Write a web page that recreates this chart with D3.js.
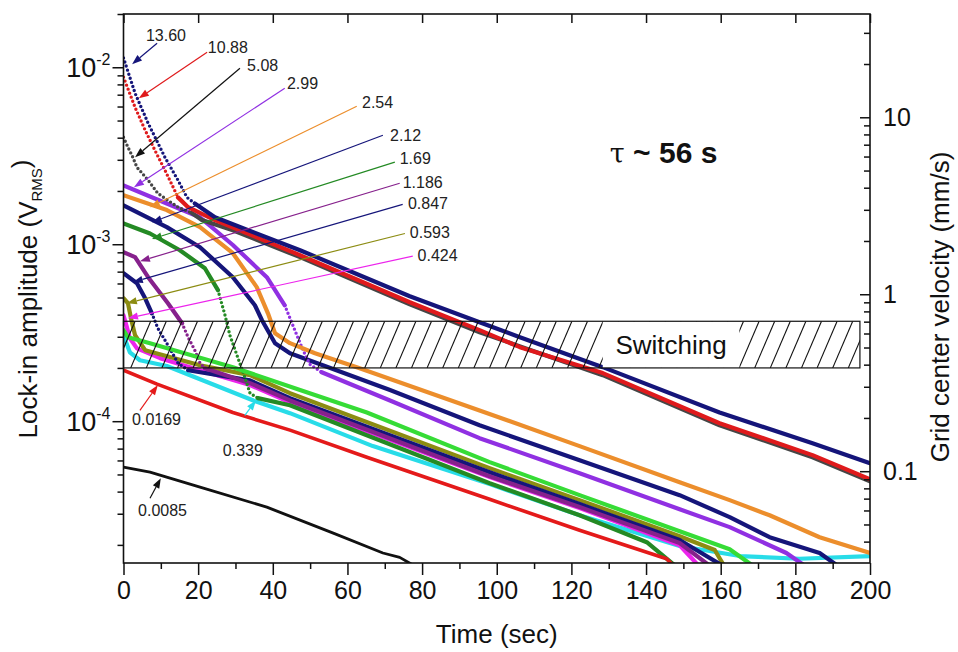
<!DOCTYPE html>
<html>
<head>
<meta charset="utf-8">
<script src="https://cdn.jsdelivr.net/npm/d3@7"></script>
<style>
  html, body { margin: 0; padding: 0; background: #fff; }
  svg { display: block; font-family: "Liberation Sans", Arial, Helvetica, sans-serif; }
</style>
</head>
<body>
<svg id="chart" width="958" height="652"></svg>
<script>
// ---------- data ----------
const timeDomain = [0, 200];               // s
const ampDomain = [1.58e-5, 2.0e-2];       // V (RMS)
const velPerVolt = 1917;                   // right axis: grid centre velocity (mm/s) per volt
const xMajorTicks = [0, 20, 40, 60, 80, 100, 120, 140, 160, 180, 200];
const xMinorTicks = [10, 30, 50, 70, 90, 110, 130, 150, 170, 190];
const ampMajorTicks = [1e-4, 1e-3, 1e-2];
const ampTickExponents = ["-4", "-3", "-2"];
const velMajorTicks = [0.1, 1, 10];
const velTickLabels = ["0.1", "1", "10"];
const switchingBand = [2.0e-4, 3.67e-4];   // amplitude range of the switching region
const switchingTime = [0, 197.3];
const switchingGap = [128.4, 165.0];       // clear strip carrying the caption

// decay curves: [time (s), lock-in amplitude (V)], labelled by drive velocity (mm/s)
const v13_60 = [[0,0.0113],[3.1,0.00713],[6.6,0.00483],[11.1,0.00310],[14.6,0.00230],[17.0,0.00184],[19.1,0.00170],[24.5,0.00142],[47.3,9.25e-4],[76.7,5.08e-4],[95.4,3.62e-4],[106.2,2.98e-4],[128.4,2.02e-4],[159.7,1.12e-4],[184.6,7.51e-5],[200,5.79e-5]];
const v10_88 = [[0,0.00880],[3.1,0.00594],[5.8,0.00441],[8.4,0.00340],[11.1,0.00262],[13.3,0.00210],[14.6,0.00184],[17.3,0.00162],[24.5,0.00137],[47.3,8.67e-4],[76.7,4.70e-4],[95.4,3.27e-4],[106.2,2.62e-4],[128.4,1.87e-4],[159.7,9.74e-5],[184.6,6.43e-5],[200,4.70e-5]];
const v5_08 = [[0,0.00402],[1.2,0.00353],[2.5,0.00310],[3.6,0.00272],[5.0,0.00252],[6.6,0.00230],[9.2,0.00194],[11.9,0.00177],[14.6,0.00162],[18.3,0.00150],[21.0,0.00137],[29.3,0.00120],[47.3,8.45e-4],[76.7,4.58e-4],[95.4,3.18e-4],[128.4,1.82e-4],[159.7,9.49e-5],[184.6,6.26e-5],[200,4.58e-5]];
const v2_99 = [[0,0.00215],[11.6,0.00170],[20.5,0.00142],[29.3,0.00099],[38.4,6.51e-4],[43.2,4.52e-4],[45.9,3.27e-4],[48.1,2.52e-4],[49.9,2.10e-4],[53.1,1.89e-4],[71.4,1.31e-4],[95.4,8.02e-5],[122.2,5.08e-5],[149.0,3.18e-5],[162.4,2.52e-5],[177.6,1.80e-5],[183.0,1.5e-5]];
const v2_54 = [[0,0.00189],[11.6,0.00156],[20.5,0.00125],[29.3,8.90e-4],[35.7,5.72e-4],[38.7,4.07e-4],[40.6,3.14e-4],[44.6,2.76e-4],[51.3,2.42e-4],[62.5,2.02e-4],[95.4,1.15e-4],[122.2,7.23e-5],[149.0,4.52e-5],[162.4,3.58e-5],[173.1,2.94e-5],[186.5,2.21e-5],[200,1.80e-5]];
const v2_12 = [[0,0.00166],[11.6,0.00125],[20.5,9.62e-4],[29.3,6.51e-4],[35.2,4.52e-4],[37.1,3.72e-4],[40.6,2.76e-4],[44.6,2.42e-4],[53.4,2.07e-4],[71.4,1.50e-4],[95.4,9.49e-5],[122.2,6.02e-5],[149.0,3.82e-5],[162.4,2.87e-5],[173.1,2.21e-5],[186.5,1.80e-5],[191.8,1.5e-5]];
const v1_69 = [[0,0.00131],[7.1,0.00115],[15.1,9.25e-4],[21.8,7.32e-4],[25.3,5.50e-4],[27.2,3.97e-4],[28.5,3.06e-4],[30.4,2.36e-4],[32.3,1.82e-4],[33.9,1.44e-4],[36.0,1.35e-4],[44.6,1.23e-4],[98.1,4.46e-5],[122.2,2.94e-5],[140.2,2.07e-5],[148.2,1.5e-5]];
const v1_186 = [[0,9.01e-4],[3.1,8.45e-4],[6.6,6.51e-4],[11.9,4.64e-4],[15.7,3.58e-4],[17.3,2.98e-4],[19.1,2.52e-4],[20.5,2.13e-4],[21.8,1.99e-4],[33.9,1.64e-4],[44.6,1.31e-4],[98.1,4.89e-5],[122.2,3.27e-5],[149.0,2.05e-5],[157.5,1.5e-5]];
const v0_847 = [[0,6.86e-4],[3.6,6.02e-4],[5.8,4.95e-4],[7.6,4.07e-4],[9.2,3.35e-4],[11.1,2.87e-4],[13.0,2.45e-4],[14.6,2.13e-4],[17.3,1.94e-4],[33.9,1.70e-4],[44.6,1.35e-4],[98.1,5.15e-5],[122.2,3.40e-5],[149.0,2.13e-5],[161.1,1.5e-5]];
const v0_593 = [[0,4.95e-4],[1.2,4.64e-4],[2.0,3.82e-4],[3.1,3.06e-4],[5.8,2.52e-4],[20.5,2.07e-4],[33.9,1.82e-4],[44.6,1.44e-4],[98.1,5.43e-5],[122.2,3.58e-5],[149.0,2.24e-5],[158.4,1.87e-5],[161.1,1.5e-5]];
const v0_424 = [[0,3.97e-4],[0.9,3.40e-4],[1.7,2.94e-4],[3.6,2.58e-4],[9.8,2.27e-4],[20.5,1.94e-4],[33.9,1.60e-4],[44.6,1.28e-4],[98.1,4.83e-5],[122.2,3.23e-5],[149.0,1.99e-5],[154.4,1.5e-5]];
const v0_339 = [[0,3.06e-4],[1.7,2.45e-4],[4.4,2.21e-4],[11.6,2.05e-4],[34.8,1.31e-4],[44.6,1.11e-4],[66.8,7.23e-5],[98.1,4.41e-5],[122.2,2.94e-5],[149.0,1.97e-5],[165.1,1.73e-5],[181.1,1.67e-5],[200,1.73e-5]];
const vUnlabelled = [[0,3.27e-4],[1.2,2.98e-4],[7.1,2.76e-4],[29.3,2.02e-4],[47.3,1.50e-4],[65.2,1.12e-4],[98.1,5.87e-5],[122.2,3.82e-5],[149.0,2.39e-5],[162.4,1.89e-5],[169.1,1.5e-5]];
const v0_0169 = [[0,1.94e-4],[9.0,1.62e-4],[29.3,1.12e-4],[44.6,8.90e-5],[65.2,6.26e-5],[98.1,3.62e-5],[122.2,2.42e-5],[145.5,1.67e-5],[147.7,1.5e-5]];
const v0_0085 = [[0,5.50e-5],[7.1,5.15e-5],[20.5,4.24e-5],[38.4,3.27e-5],[56.2,2.33e-5],[69.5,1.80e-5],[74.0,1.70e-5],[78.5,1.5e-5]];

// drawing order (back to front); sparse = time span recorded with few samples
const series = [
  { key: "0.339",  points: v0_339 },
  { key: "0.424",  points: v0_424 },
  { key: "0.593",  points: v0_593 },
  { key: "0.847",  points: v0_847, sparse: [8, 17.5] },
  { key: "1.186",  points: v1_186, sparse: [15.5, 21.5] },
  { key: "1.69",   points: v1_69,  sparse: [26, 35] },
  { key: "lime",   points: vUnlabelled },
  { key: "0.0169", points: v0_0169 },
  { key: "0.0085", points: v0_0085 },
  { key: "2.12",   points: v2_12 },
  { key: "2.99",   points: v2_99,  sparse: [42.5, 53] },
  { key: "2.54",   points: v2_54 },
  { key: "5.08",   points: v5_08,  sparse: [0, 18] },
  { key: "10.88",  points: v10_88, sparse: [0, 15] },
  { key: "13.60",  points: v13_60, sparse: [0, 19] }
];

// call-outs: label text, text anchor, leader start, arrow tip (time, amplitude)
const calloutText = ["13.60","10.88","5.08","2.99","2.54","2.12","1.69","1.186","0.847","0.593","0.424","0.0169","0.339","0.0085"];
const calloutAt   = [[6.0,0.01517],[22.6,0.01297],[33.1,0.01026],[43.8,0.00812],[63.9,0.00634],[71.4,0.00413],[74.0,0.00306],[74.8,0.00224],[76.2,0.00170],[76.7,0.00117],[78.8,8.67e-4],[2.3,1.03e-4],[26.6,6.86e-5],[3.9,3.14e-5]];
const calloutFrom = [[9.0,0.01366],[22.4,0.01216],[31.2,0.00987],[43.2,0.00761],[62.5,0.00602],[69.5,0.00413],[72.7,0.00291],[74.0,0.00221],[74.8,0.00168],[75.4,0.00115],[77.5,8.56e-4],[4.4,1.15e-4],[32.5,1.08e-4],[7.1,3.67e-5]];
const calloutTip  = [[2.3,0.01040],[4.1,0.00668],[3.1,0.00310],[2.8,0.00210],[7.1,0.00162],[7.6,0.00133],[7.6,0.00107],[4.4,8.01e-4],[2.5,6.10e-4],[0.9,4.64e-4],[1.2,3.82e-4],[9.2,1.60e-4],[35.5,1.31e-4],[10.0,4.76e-5]];
const calloutKey  = ["13.60","10.88","5.08","2.99","2.54","2.12","1.69","1.186","0.847","0.593","0.424","0.0169","0.339","0.0085"];

const tauText = ["\u03c4", " ~ 56 s"];
const tauAt = [130.3, 0.00287];

// ---------- styles ----------
const colour = {
  "13.60": "#15157a", "10.88": "#df1a1c", "5.08": "#464646", "2.99": "#9030e2",
  "2.54": "#ec8e2c", "2.12": "#15157a", "1.69": "#248a24", "1.186": "#86218c",
  "0.847": "#15157a", "0.593": "#8c8c12", "0.424": "#ec24ec", "0.339": "#28dce8",
  "lime": "#36dc36", "0.0169": "#e41a1a", "0.0085": "#111111"
};
const arrowColour = Object.assign({}, colour, { "5.08": "#111111" });
const strokeW = { "0.0085": 2.8, "0.0169": 3.6 };

const plot = { left: 123.5, top: 14, right: 870, bottom: 563 };

// ---------- scales ----------
const x = d3.scaleLinear().domain(timeDomain).range([plot.left, plot.right]);
const y = d3.scaleLog().domain(ampDomain).range([plot.bottom, plot.top]);
const yR = d3.scaleLog().domain(ampDomain.map(a => a * velPerVolt)).range([plot.bottom, plot.top]);

const svg = d3.select("#chart");
svg.append("rect").attr("width", 958).attr("height", 652).attr("fill", "#fff");

svg.append("defs").append("clipPath").attr("id", "plotClip")
  .append("rect")
  .attr("x", plot.left).attr("y", plot.top)
  .attr("width", plot.right - plot.left).attr("height", plot.bottom - plot.top);

// ---------- curves ----------
const line = d3.line().x(d => x(d[0])).y(d => y(d[1]));

function splitRuns(points, sparse) {
  const out = [];
  let cur = null;
  for (let i = 0; i < points.length - 1; i++) {
    const mid = (points[i][0] + points[i + 1][0]) / 2;
    const dotted = !!sparse && mid >= sparse[0] && mid <= sparse[1];
    if (!cur || cur.dotted !== dotted) {
      cur = { dotted, pts: [points[i]] };
      out.push(cur);
    }
    cur.pts.push(points[i + 1]);
  }
  return out;
}

const curves = svg.append("g").attr("clip-path", "url(#plotClip)");
series.forEach(s => {
  const g = curves.append("g");
  splitRuns(s.points, s.sparse).forEach(r => {
    const p = g.append("path")
      .attr("d", line(r.pts))
      .attr("fill", "none")
      .attr("stroke", colour[s.key])
      .attr("stroke-linejoin", "round");
    if (r.dotted) {
      p.attr("stroke-width", 3.4).attr("stroke-linecap", "round").attr("stroke-dasharray", "0 4.3");
    } else {
      p.attr("stroke-width", strokeW[s.key] || 4.2).attr("stroke-linecap", "round");
    }
  });
});

// ---------- switching band ----------
const bx0 = x(switchingTime[0]), bx1 = x(switchingTime[1]);
const by0 = y(switchingBand[1]), by1 = y(switchingBand[0]);
svg.select("defs").append("clipPath").attr("id", "bandClip")
  .append("rect").attr("x", bx0).attr("y", by0).attr("width", bx1 - bx0).attr("height", by1 - by0);
const hatch = svg.append("g").attr("clip-path", "url(#bandClip)");
const hatchStep = 15.6, hatchRun = 20;
hatch.selectAll("line")
  .data(d3.range(bx0 - hatchRun - 4, bx1 + hatchStep, hatchStep))
  .join("line")
  .attr("x1", d => d).attr("y1", by1)
  .attr("x2", d => d + hatchRun).attr("y2", by0)
  .attr("stroke", "#111").attr("stroke-width", 1.1);
hatch.append("rect")
  .attr("x", x(switchingGap[0])).attr("y", by0)
  .attr("width", x(switchingGap[1]) - x(switchingGap[0])).attr("height", by1 - by0)
  .attr("fill", "#fff");
svg.append("rect")
  .attr("x", bx0).attr("y", by0).attr("width", bx1 - bx0).attr("height", by1 - by0)
  .attr("fill", "none").attr("stroke", "#111").attr("stroke-width", 1.2);
svg.append("text")
  .attr("x", (x(switchingGap[0]) + x(switchingGap[1])) / 2)
  .attr("y", (by0 + by1) / 2)
  .attr("dy", "0.36em")
  .attr("text-anchor", "middle")
  .attr("font-size", 26)
  .attr("fill", "#111")
  .text("Switching");

// ---------- call-outs ----------
const callouts = svg.append("g");
calloutText.forEach((t, i) => {
  const c = arrowColour[calloutKey[i]];
  const fx = x(calloutFrom[i][0]), fy = y(calloutFrom[i][1]);
  const tx = x(calloutTip[i][0]), ty = y(calloutTip[i][1]);
  const ang = Math.atan2(ty - fy, tx - fx);
  const L = 10, hw = 3.6;
  const bxp = tx - L * Math.cos(ang), byp = ty - L * Math.sin(ang);
  callouts.append("line")
    .attr("x1", fx).attr("y1", fy).attr("x2", bxp).attr("y2", byp)
    .attr("stroke", c).attr("stroke-width", 1.2);
  const pts = [
    [tx, ty],
    [bxp + hw * Math.sin(ang), byp - hw * Math.cos(ang)],
    [bxp - hw * Math.sin(ang), byp + hw * Math.cos(ang)]
  ];
  callouts.append("polygon").attr("points", pts.map(p => p.join(",")).join(" ")).attr("fill", c);
  callouts.append("text")
    .attr("x", x(calloutAt[i][0])).attr("y", y(calloutAt[i][1]))
    .attr("dy", "0.36em")
    .attr("font-size", 16)
    .attr("fill", "#222")
    .text(t);
});

// ---------- tau annotation ----------
const tau = svg.append("text")
  .attr("x", x(tauAt[0])).attr("y", y(tauAt[1]))
  .attr("font-size", 30).attr("fill", "#111");
tau.append("tspan").attr("font-family", "'DejaVu Serif', serif").attr("font-size", 27).text(tauText[0]);
tau.append("tspan").attr("font-weight", "bold").text(tauText[1]);

// ---------- axes ----------
const axes = svg.append("g").attr("fill", "none");

function clean(g) { g.select(".domain").remove(); g.selectAll("line").attr("stroke", "#111").attr("stroke-width", 1.5); }

// bottom
axes.append("g").attr("transform", `translate(0,${plot.bottom})`)
  .call(d3.axisBottom(x).tickValues(xMajorTicks).tickSize(12).tickPadding(6).tickFormat(d3.format("d")))
  .call(clean)
  .call(g => g.selectAll("text").attr("font-size", 25).attr("font-family", "'Liberation Sans', Arial, sans-serif").attr("fill", "#111"));
axes.append("g").attr("transform", `translate(0,${plot.bottom})`)
  .call(d3.axisBottom(x).tickValues(xMinorTicks).tickSize(6).tickFormat(""))
  .call(clean);
// top
axes.append("g").attr("transform", `translate(0,${plot.top})`)
  .call(d3.axisTop(x).tickValues(xMajorTicks).tickSize(-9).tickFormat(""))
  .call(clean);

// left (amplitude)
const ampMinor = y.ticks().filter(v => !ampMajorTicks.some(m => Math.abs(v / m - 1) < 1e-6));
axes.append("g").attr("transform", `translate(${plot.left},0)`)
  .call(d3.axisLeft(y).tickValues(ampMajorTicks).tickSize(11).tickFormat(""))
  .call(clean);
axes.append("g").attr("transform", `translate(${plot.left},0)`)
  .call(d3.axisLeft(y).tickValues(ampMinor).tickSize(6).tickFormat(""))
  .call(clean);
ampMajorTicks.forEach((v, i) => {
  const t = svg.append("text")
    .attr("x", plot.left - 13).attr("y", y(v)).attr("dy", "0.36em")
    .attr("text-anchor", "end").attr("font-size", 27).attr("fill", "#111");
  t.append("tspan").text("10");
  t.append("tspan").attr("font-size", 16).attr("dy", "-0.75em").text(ampTickExponents[i]);
});

// right (velocity)
const velMinor = yR.ticks().filter(v => !velMajorTicks.some(m => Math.abs(v / m - 1) < 1e-6));
axes.append("g").attr("transform", `translate(${plot.right},0)`)
  .call(d3.axisRight(yR).tickValues(velMajorTicks).tickSize(-10).tickPadding(13).tickFormat((d, i) => velTickLabels[i]))
  .call(clean)
  .call(g => g.selectAll("text").attr("font-size", 25).attr("font-family", "'Liberation Sans', Arial, sans-serif").attr("fill", "#111"));
axes.append("g").attr("transform", `translate(${plot.right},0)`)
  .call(d3.axisRight(yR).tickValues(velMinor).tickSize(-6).tickFormat(""))
  .call(clean);

// frame
svg.append("rect")
  .attr("x", plot.left).attr("y", plot.top)
  .attr("width", plot.right - plot.left).attr("height", plot.bottom - plot.top)
  .attr("fill", "none").attr("stroke", "#111").attr("stroke-width", 1.6);

// ---------- titles ----------
svg.append("text")
  .attr("x", (plot.left + plot.right) / 2).attr("y", 643)
  .attr("text-anchor", "middle").attr("font-size", 26).attr("fill", "#111")
  .text("Time (sec)");

const yt = svg.append("text")
  .attr("transform", "translate(37,299) rotate(-90)")
  .attr("text-anchor", "middle").attr("font-size", 26).attr("fill", "#111");
yt.append("tspan").text("Lock-in amplitude (V");
yt.append("tspan").attr("font-size", 15).attr("dy", "0.3em").text("RMS");
yt.append("tspan").attr("dy", "-0.45em").text(")");

svg.append("text")
  .attr("transform", "translate(949,307) rotate(-90)")
  .attr("text-anchor", "middle").attr("font-size", 26).attr("fill", "#111")
  .text("Grid center velocity (mm/s)");
</script>
</body>
</html>
